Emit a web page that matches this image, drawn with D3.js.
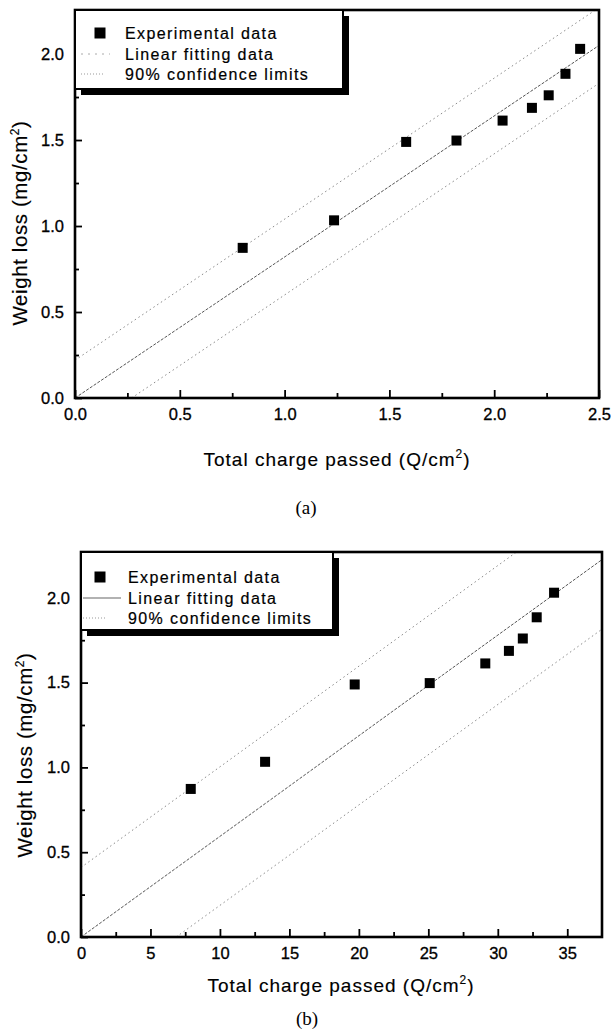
<!DOCTYPE html>
<html>
<head>
<meta charset="utf-8">
<script src="https://cdn.jsdelivr.net/npm/d3@7"></script>
<style>
    body { margin: 0; background: #ffffff; }
    svg { display: block; }
    text { font-family: "Liberation Sans", Arial, sans-serif; fill: #000; }
    .tick text { font-size: 16.5px; stroke: #000; stroke-width: 0.3px; }
    .title { font-size: 19px; letter-spacing: 1px; stroke: #000; stroke-width: 0.15px; }
    .legend text { font-size: 16px; letter-spacing: 1.4px; stroke: #000; stroke-width: 0.2px; }
    .caption { font-family: "Liberation Serif", "Times New Roman", serif; font-size: 19px; }
</style>
</head>
<body>
<div id="chart"></div>
<script>
// weight loss values, same experiment in both panels (mg/cm2)
const weightLoss = [0.873, 1.033, 1.489, 1.497, 1.613, 1.687, 1.76, 1.885, 2.03];

// panel (a): total charge passed (Q/cm2)
const chargeA = [0.80, 1.236, 1.58, 1.82, 2.04, 2.18, 2.26, 2.34, 2.41];
// panel (b): total charge passed (Q/cm2)
const chargeB = [7.9, 13.25, 19.7, 25.1, 29.1, 30.8, 31.8, 32.8, 34.05];

// fitted line and 90% confidence limits, end points
const fitA = [[0, 0], [2.5, 2.05]];
const upperA = [[0, 0.22], [2.5, 2.27]];
const lowerA = [[0.27, 0], [2.5, 1.83]];
const fitB = [[0, 0], [37.5, 2.225]];
const upperB = [[0, 0.41], [37.5, 2.635]];
const lowerB = [[6.85, 0], [37.5, 1.815]];

// tick values
const xMajorA = [0, 0.5, 1.0, 1.5, 2.0, 2.5];
const xMinorA = [0.25, 0.75, 1.25, 1.75, 2.25];
const xMajorB = [0, 5, 10, 15, 20, 25, 30, 35];
const xMinorB = [2.5, 7.5, 12.5, 17.5, 22.5, 27.5, 32.5];
const yMajor = [0, 0.5, 1.0, 1.5, 2.0];
const yMinor = [0.25, 0.75, 1.25, 1.75];

const legendLabels = ["Experimental data", "Linear fitting data", "90% confidence limits"];


window.onload = function() {
    let svg = d3.select("#chart")
                .append("svg")
                .attr("width", 612)
                .attr("height", 1034);

    // top panel
    makePanel(svg, {
        id: "a", left: 75, right: 599, top: 10, bottom: 398,
        xMax: 2.5, yMax: 2.256,
        xMajor: xMajorA, xMinor: xMinorA, xFormat: d3.format(".1f"),
        charge: chargeA, fit: fitA, upper: upperA, lower: lowerA,
        yTitle: {x: 27, y: 223}, xTitle: {x: 337, y: 466},
        caption: {x: 306, y: 514},
        legend: {w: 268, h: 79, rows: [33, 54, 74], marker: 100, text: 125,
                 fitSample: [81, 110], fitSolid: false, limSample: [81, 105]}
    });

    // bottom panel
    makePanel(svg, {
        id: "b", left: 81, right: 602, top: 552, bottom: 937,
        xMax: 37.5, yMax: 2.27,
        xMajor: xMajorB, xMinor: xMinorB, xFormat: d3.format("d"),
        charge: chargeB, fit: fitB, upper: upperB, lower: lowerB,
        yTitle: {x: 32, y: 755}, xTitle: {x: 341, y: 992},
        caption: {x: 307, y: 1025},
        legend: {w: 252, h: 78, rows: [577, 598, 618], marker: 100, text: 128,
                 fitSample: [83, 121], fitSolid: true, limSample: [83, 105]}
    });
};


/**
 * Draws one scatter panel with fit line, confidence limits and legend.
 */
function makePanel(svg, p) {
    let x = d3.scaleLinear().domain([0, p.xMax]).range([p.left, p.right]);
    let y = d3.scaleLinear().domain([0, p.yMax]).range([p.bottom, p.top]);

    let g = svg.append("g").attr("id", "panel-" + p.id);

    // clip lines to the plot area
    g.append("clipPath")
     .attr("id", "clip-" + p.id)
     .append("rect")
     .attr("x", p.left)
     .attr("y", p.top)
     .attr("width", p.right - p.left)
     .attr("height", p.bottom - p.top);

    let line = d3.line()
                 .x(function(d) { return x(d[0]); })
                 .y(function(d) { return y(d[1]); });

    let lines = g.append("g").attr("clip-path", "url(#clip-" + p.id + ")");

    // confidence limits, light dotted
    [p.upper, p.lower].forEach(function(l) {
        lines.append("path")
             .attr("d", line(l))
             .attr("fill", "none")
             .attr("stroke", "#8a8a8a")
             .attr("stroke-width", 1)
             .attr("stroke-dasharray", "1.5,3");
    });

    // linear fit, fine dashes
    lines.append("path")
         .attr("d", line(p.fit))
         .attr("fill", "none")
         .attr("stroke", "#555")
         .attr("stroke-width", 1)
         .attr("stroke-dasharray", "3,1.5");

    // axes with inward ticks
    let xAxis = g.append("g")
                 .attr("transform", "translate(0," + p.bottom + ")")
                 .call(d3.axisBottom(x)
                         .tickValues(p.xMajor)
                         .tickFormat(p.xFormat)
                         .tickSizeInner(-8)
                         .tickSizeOuter(0)
                         .tickPadding(10));
    xAxis.append("g")
         .call(d3.axisBottom(x)
                 .tickValues(p.xMinor)
                 .tickFormat("")
                 .tickSizeInner(-5)
                 .tickSizeOuter(0));

    let yAxis = g.append("g")
                 .attr("transform", "translate(" + p.left + ",0)")
                 .call(d3.axisLeft(y)
                         .tickValues(yMajor)
                         .tickFormat(d3.format(".1f"))
                         .tickSizeInner(-7)
                         .tickSizeOuter(0)
                         .tickPadding(11));
    yAxis.append("g")
         .call(d3.axisLeft(y)
                 .tickValues(yMinor)
                 .tickFormat("")
                 .tickSizeInner(-4)
                 .tickSizeOuter(0));

    g.selectAll(".domain").remove();
    g.selectAll(".tick line").attr("stroke", "#000").attr("stroke-width", 1.8);
    g.selectAll(".tick text").attr("font-family", null).attr("font-size", null);

    // frame
    g.append("rect")
     .attr("x", p.left)
     .attr("y", p.top)
     .attr("width", p.right - p.left)
     .attr("height", p.bottom - p.top)
     .attr("fill", "none")
     .attr("stroke", "#000")
     .attr("stroke-width", 2.6);

    // data points
    g.append("g")
     .selectAll("rect")
     .data(p.charge)
     .enter()
     .append("rect")
     .attr("x", function(d) { return x(d) - 5; })
     .attr("y", function(d, i) { return y(weightLoss[i]) - 5; })
     .attr("width", 10)
     .attr("height", 10)
     .attr("fill", "#000");

    makeLegend(g, p);

    // axis titles
    let yt = g.append("text")
              .attr("class", "title")
              .attr("text-anchor", "middle")
              .attr("transform", "translate(" + p.yTitle.x + "," + p.yTitle.y + ") rotate(-90)");
    yt.append("tspan").text("Weight loss (mg/cm");
    yt.append("tspan").attr("dy", -8).attr("font-size", "12px").text("2");
    yt.append("tspan").attr("dy", 8).text(")");
    yt.style("font-size", "20.5px").style("letter-spacing", "0.6px");

    let xt = g.append("text")
              .attr("class", "title")
              .attr("text-anchor", "middle")
              .attr("x", p.xTitle.x)
              .attr("y", p.xTitle.y);
    xt.append("tspan").text("Total charge passed (Q/cm");
    xt.append("tspan").attr("dy", -8).attr("font-size", "12px").text("2");
    xt.append("tspan").attr("dy", 8).text(")");

    g.append("text")
     .attr("class", "caption")
     .attr("text-anchor", "middle")
     .attr("x", p.caption.x)
     .attr("y", p.caption.y)
     .text("(" + p.id + ")");
}


/**
 * Legend box with black drop shadow, anchored at the top-left frame corner.
 */
function makeLegend(g, p) {
    let lg = p.legend;
    let leg = g.append("g").attr("class", "legend");

    leg.append("rect")
       .attr("x", p.left + 6)
       .attr("y", p.top + 6)
       .attr("width", lg.w)
       .attr("height", lg.h)
       .attr("fill", "#000");
    leg.append("rect")
       .attr("x", p.left)
       .attr("y", p.top)
       .attr("width", lg.w)
       .attr("height", lg.h)
       .attr("fill", "#fff")
       .attr("stroke", "#000")
       .attr("stroke-width", 2);

    leg.append("rect")
       .attr("x", lg.marker - 5.5)
       .attr("y", lg.rows[0] - 5.5)
       .attr("width", 11)
       .attr("height", 11)
       .attr("fill", "#000");

    leg.append("line")
       .attr("x1", lg.fitSample[0])
       .attr("x2", lg.fitSample[1])
       .attr("y1", lg.rows[1])
       .attr("y2", lg.rows[1])
       .attr("stroke", lg.fitSolid ? "#999" : "#aaa")
       .attr("stroke-width", lg.fitSolid ? 1.6 : 1)
       .attr("stroke-dasharray", lg.fitSolid ? null : "2,5");

    leg.append("line")
       .attr("x1", lg.limSample[0])
       .attr("x2", lg.limSample[1])
       .attr("y1", lg.rows[2])
       .attr("y2", lg.rows[2])
       .attr("stroke", "#999")
       .attr("stroke-width", 1)
       .attr("stroke-dasharray", "1,2");

    leg.selectAll("text")
       .data(legendLabels)
       .enter()
       .append("text")
       .attr("x", lg.text)
       .attr("y", function(d, i) { return lg.rows[i]; })
       .attr("dy", "0.36em")
       .text(function(d) { return d; });
}
</script>
</body>
</html>
